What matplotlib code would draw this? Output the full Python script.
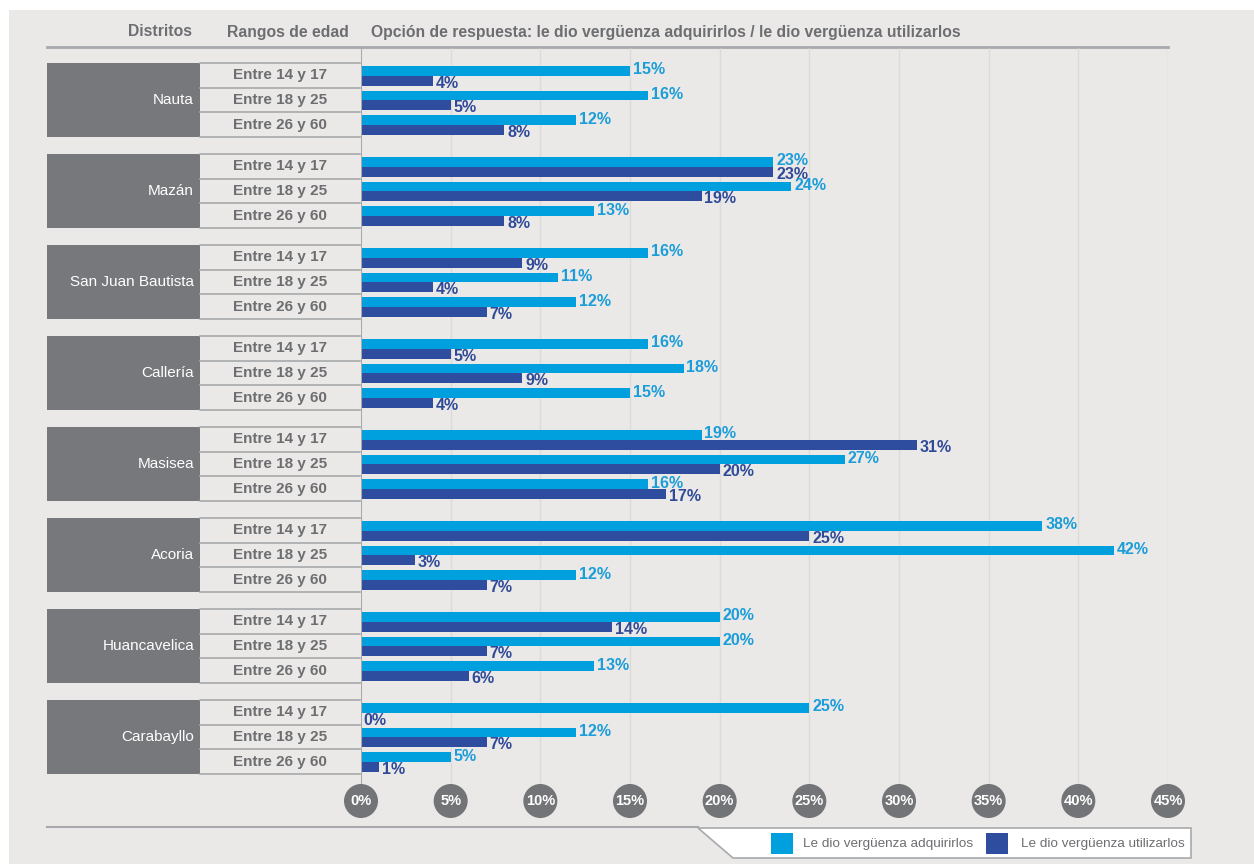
import matplotlib.pyplot as plt
from matplotlib.patches import Rectangle, Polygon
import numpy as np

plt.rcParams['font.family'] = ['Liberation Sans', 'DejaVu Sans']

distritos = ['Nauta', 'Mazán', 'San Juan Bautista', 'Callería',
             'Masisea', 'Acoria', 'Huancavelica', 'Carabayllo']
rangos = ['Entre 14 y 17', 'Entre 18 y 25', 'Entre 26 y 60']
# % que le dio vergüenza adquirirlos, por distrito y rango de edad
adquirir = [[15, 16, 12], [23, 24, 13], [16, 11, 12], [16, 18, 15],
            [19, 27, 16], [38, 42, 12], [20, 20, 13], [25, 12, 5]]
# % que le dio vergüenza utilizarlos
utilizar = [[4, 5, 8], [23, 19, 8], [9, 4, 7], [5, 9, 4],
            [31, 20, 17], [25, 3, 7], [14, 7, 6], [0, 7, 1]]
ticks = np.arange(0, 50, 5)

LIGHT = '#00a0df'
DARK = '#2f4d9f'
LIGHT_TXT = '#1b9dd9'
DARK_TXT = '#2f4a98'
GREY_TXT = '#6d6e71'
LINE = '#a7a9ac'
BLOCK = '#77787b'

W, H = 1254, 864
fig = plt.figure(figsize=(W / 100, H / 100), dpi=100)
fig.patch.set_facecolor('white')

# layout axes in pixel units
lay = fig.add_axes([0, 0, 1, 1])
lay.set_xlim(0, W)
lay.set_ylim(H, 0)
lay.axis('off')

# bar axes: 0..45% between x=361 and x=1168, y in pixels
X0, X1 = 361, 1168
ax = fig.add_axes([X0 / W, 0, (X1 - X0) / W, 1])
ax.set_xlim(0, 45)
ax.set_ylim(H, 0)
ax.axis('off')
ax.patch.set_alpha(0)

lay.add_patch(Rectangle((9, 10), W - 9, H - 10, fc='#ebe9e7', ec='none', zorder=0))

TOP = 63
ROW = 24.67
GAP = 17
PITCH = 3 * ROW + GAP
HEAD_Y = 47
CIRC_Y = 801

# headers
hkw = dict(fontsize=11.3, fontweight='bold', color=GREY_TXT, va='center')
lay.text(160, 32, 'Distritos', ha='center', **hkw)
lay.text(288, 32, 'Rangos de edad', ha='center', **hkw)
lay.text(371, 32, 'Opción de respuesta: le dio vergüenza adquirirlos / le dio vergüenza utilizarlos',
         ha='left', **hkw)
lay.plot([47, X1], [HEAD_Y, HEAD_Y], color=LINE, lw=2, zorder=2)

# grid and zero line
ax.vlines(ticks[1:], HEAD_Y + 1, CIRC_Y - 16, color='#dcdbda', lw=1, zorder=1)
ax.vlines(0, HEAD_Y + 1, CIRC_Y - 16, color=LINE, lw=1.5, zorder=4)

for g, name in enumerate(distritos):
    y0 = TOP + g * PITCH
    lay.add_patch(Rectangle((47, y0), 153, 3 * ROW, fc=BLOCK, ec='none', zorder=2))
    lay.text(194, y0 + 1.5 * ROW, name, ha='right', va='center',
             color='white', fontsize=11, zorder=3)
    for k in range(4):
        lay.plot([200, 360], [y0 + k * ROW] * 2, color=LINE, lw=1.2, zorder=2)
    for r, rango in enumerate(rangos):
        yr = y0 + r * ROW
        lay.text(280, yr + ROW / 2, rango, ha='center', va='center',
                 fontsize=11, fontweight='bold', color=GREY_TXT, zorder=3)
        a = adquirir[g][r]
        u = utilizar[g][r]
        ax.barh(yr + 7.8, a, height=9.8, color=LIGHT, zorder=3)
        ax.barh(yr + 17.6, u, height=9.8, color=DARK, zorder=3)
        ax.text(a + 0.15, yr + 6.8, f'{a}%', ha='left', va='center', fontsize=11.5,
                fontweight='bold', color=LIGHT_TXT, zorder=5)
        ax.text(u + 0.15, yr + 20, f'{u}%', ha='left', va='center', fontsize=11.5,
                fontweight='bold', color=DARK_TXT, zorder=5)

# tick bubbles
ax.scatter(ticks, [CIRC_Y] * len(ticks), s=600, color='#737477',
           edgecolors='none', zorder=6, clip_on=False)
for t in ticks:
    ax.text(t, CIRC_Y, f'{t}%', ha='center', va='center', color='white',
            fontsize=10.5, fontweight='bold', zorder=7, clip_on=False)

# bottom rule and legend
lay.plot([47, 698], [827, 827], color=LINE, lw=1.5, zorder=2)
lay.add_patch(Polygon([(698, 828), (1191, 828), (1191, 858), (733, 858)],
                      closed=True, fc='white', ec=LINE, lw=1.2, zorder=2))
lay.add_patch(Rectangle((771, 833), 22, 21, fc=LIGHT, ec='none', zorder=3))
lay.text(803, 844, 'Le dio vergüenza adquirirlos', ha='left', va='center',
         fontsize=9.7, color=GREY_TXT, zorder=3)
lay.add_patch(Rectangle((986, 833), 22, 21, fc=DARK, ec='none', zorder=3))
lay.text(1021, 844, 'Le dio vergüenza utilizarlos', ha='left', va='center',
         fontsize=9.7, color=GREY_TXT, zorder=3)

fig.savefig('out.png', dpi=100)
